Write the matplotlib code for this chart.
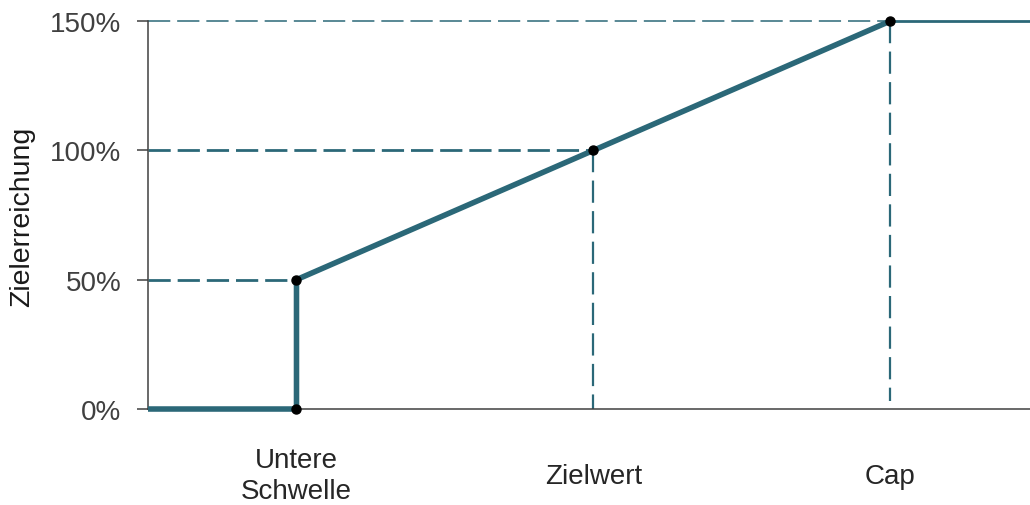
import matplotlib
matplotlib.use("Agg")
import matplotlib.pyplot as plt

plt.rcParams['font.family'] = ['Liberation Sans', 'DejaVu Sans']
plt.rcParams['lines.scale_dashes'] = False

# Stützpunkte der Zielerreichungskurve
kurve_x = [0, 1, 1, 3, 5]
kurve_y = [0, 0, 50, 100, 150]
cap_x = [5, 5.94]
cap_y = [150, 150]
punkte_x = [1, 1, 3, 5]
punkte_y = [0, 50, 100, 150]

ytick_werte = [0, 50, 100, 150]
ytick_text = ['0%', '50%', '100%', '150%']
xtick_werte = [1, 3, 5]
xtick_text = ['Untere\nSchwelle', 'Zielwert', 'Cap']

teal = '#2b6878'
grau = '#404040'

fig = plt.figure(figsize=(10.30, 5.06), dpi=100)
ax = fig.add_axes([0.1437, 0.1897, 0.8563, 0.7668])

# gestrichelte Hilfslinien
ax.plot([0, 1], [50, 50], color=teal, lw=2.0, dashes=(16, 5), clip_on=False)
ax.plot([0, 3], [100, 100], color=teal, lw=2.0, dashes=(16, 5), clip_on=False)
ax.plot([0, 5], [150, 150], color=teal, lw=1.1, dashes=(16, 5), clip_on=False)
ax.plot([3, 3], [100, 0], color=teal, lw=1.6, dashes=(16, 6), clip_on=False)
ax.plot([5, 5], [150, 3], color=teal, lw=1.6, dashes=(16, 6), clip_on=False)

# Kurve
ax.plot(kurve_x, kurve_y, color=teal, lw=4, solid_capstyle='butt',
        solid_joinstyle='round', clip_on=False, zorder=3)
ax.plot(cap_x, cap_y, color=teal, lw=2, clip_on=False, zorder=3)
ax.plot(punkte_x, punkte_y, 'o', ms=6.5, mfc='black', mec='black',
        clip_on=False, zorder=4)

ax.set_xlim(0, 5.94)
ax.set_ylim(0, 150)

for s in ['top', 'right']:
    ax.spines[s].set_visible(False)
for s in ['left', 'bottom']:
    ax.spines[s].set_color(grau)
    ax.spines[s].set_linewidth(1.1)

ax.set_yticks(ytick_werte, ytick_text)
ax.tick_params(axis='y', length=8, width=1.1, color=grau, pad=11,
               labelsize=20, labelcolor=grau)

ax.set_xticks(xtick_werte, xtick_text)
ax.tick_params(axis='x', length=0, pad=48, labelsize=20, labelcolor='#262626')
for lab in ax.get_xticklabels():
    lab.set_verticalalignment('center')
    lab.set_linespacing(1.25)

ax.set_ylabel('Zielerreichung', fontsize=20.5, color='#1a1a1a')
ax.yaxis.set_label_coords(-0.128, 0.497)

fig.savefig('out.png', dpi=100)
